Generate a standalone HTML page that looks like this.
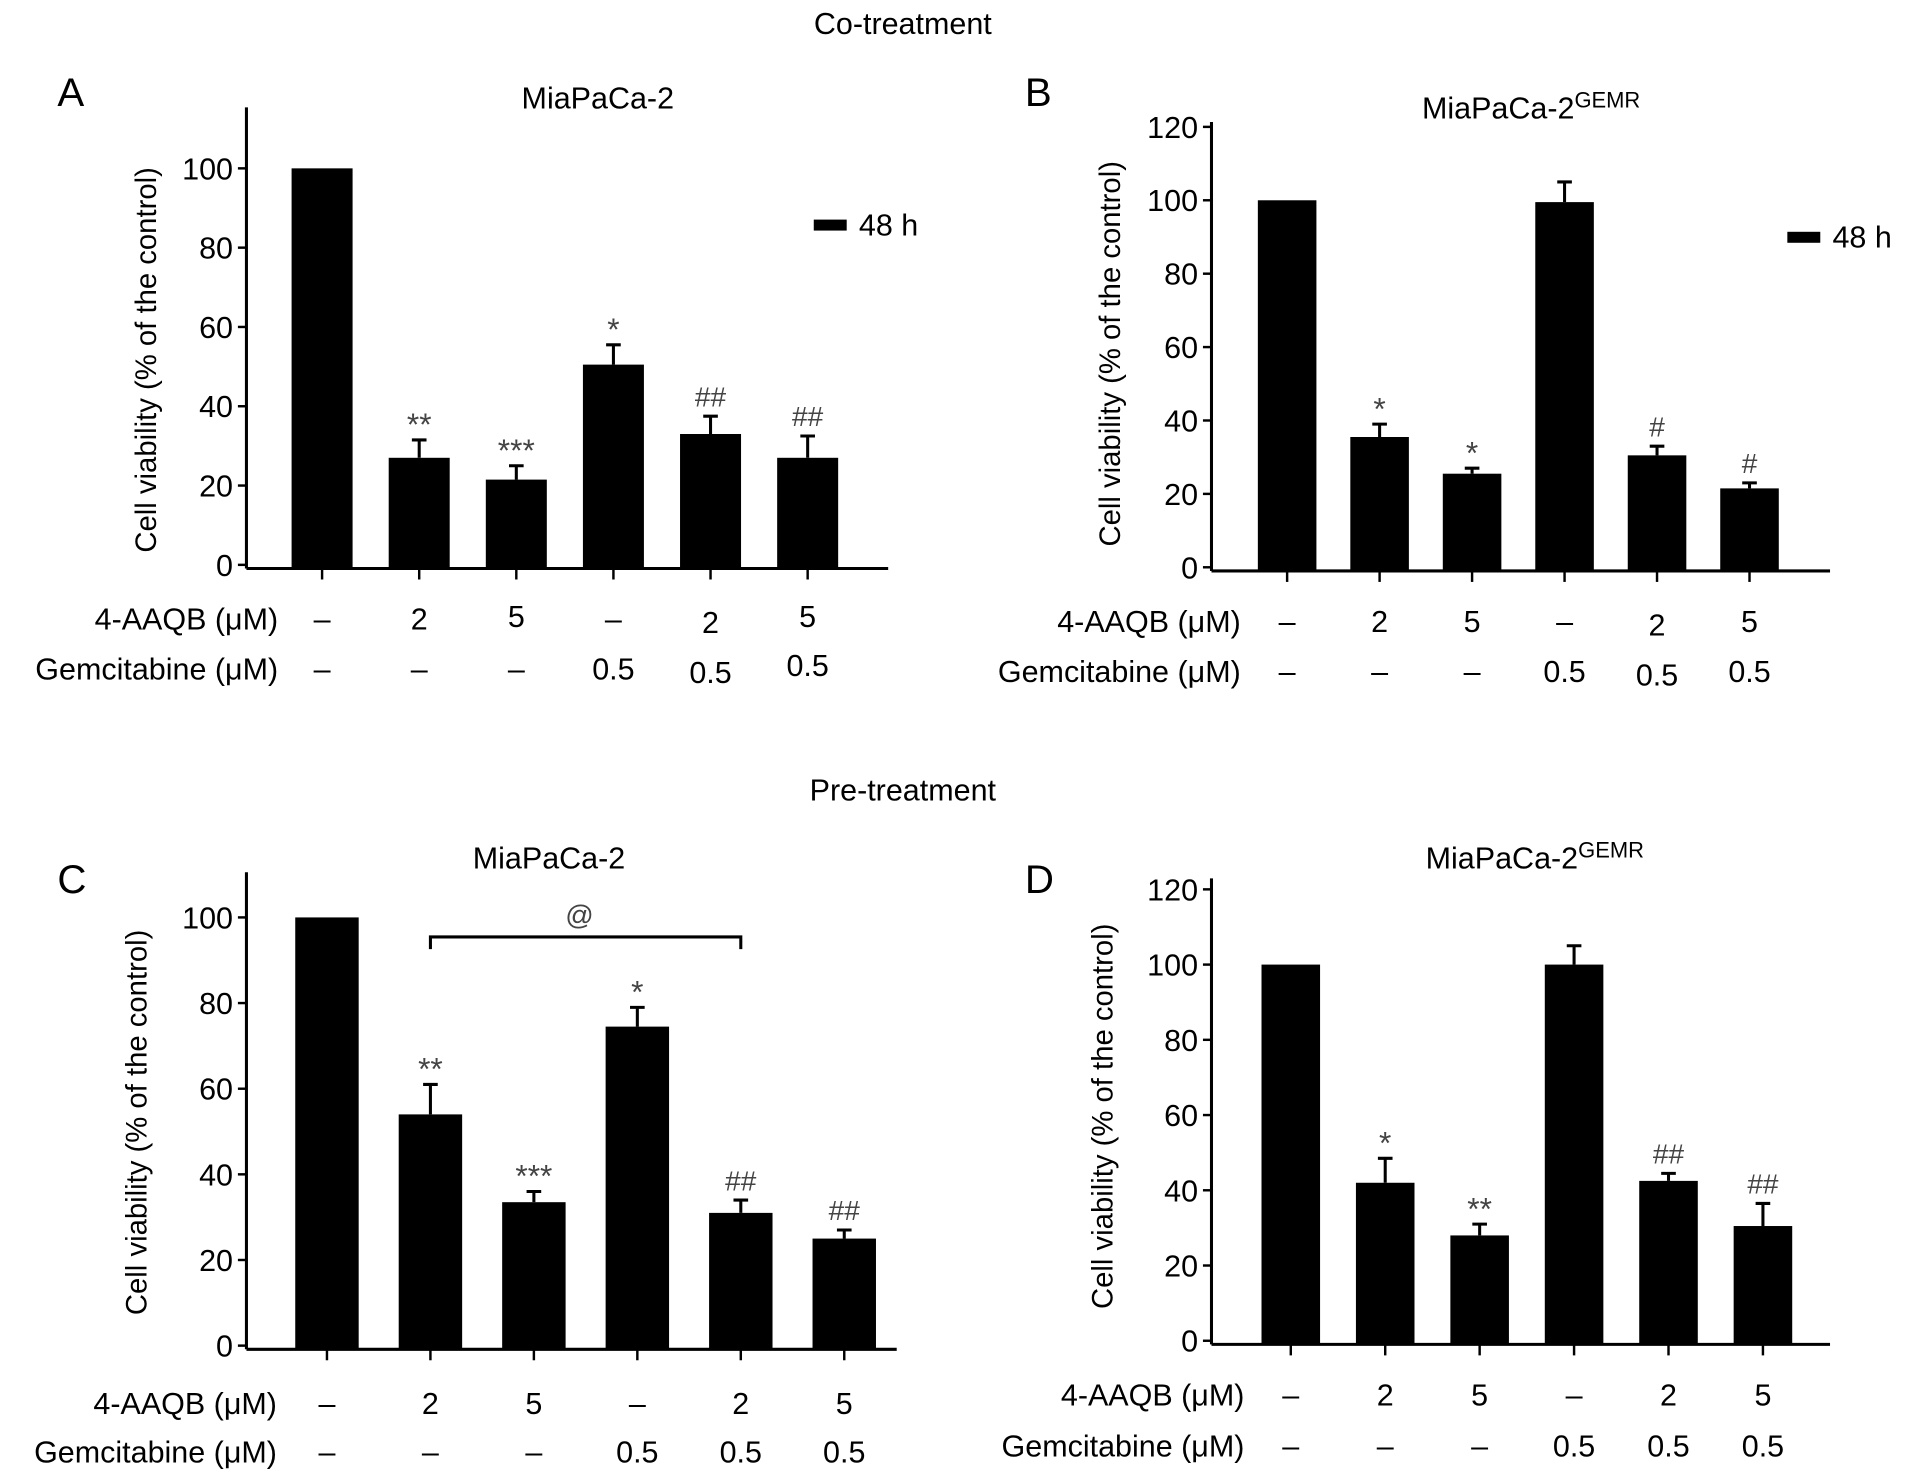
<!DOCTYPE html>
<html><head><meta charset="utf-8"><style>
html,body{margin:0;padding:0;background:#fff;}
svg{display:block;font-family:"Liberation Sans",Arial,sans-serif;}
</style></head><body>
<svg id="fig" width="1913" height="1483" viewBox="0 0 1568 1215.6" preserveAspectRatio="none" xmlns="http://www.w3.org/2000/svg">
<text x="740" y="28" font-size="25" text-anchor="middle">Co-treatment</text>
<text x="740" y="656" font-size="25" text-anchor="middle">Pre-treatment</text>
</svg>
<script>
const aaqbLabels = ["–","2","5","–","2","5"];
const gemLabels = ["–","–","–","0.5","0.5","0.5"];
const valuesA = [100, 27, 21.5, 50.5, 33, 27];
const errorsA = [0, 31.5, 25, 55.5, 37.5, 32.5];
const marksA = ["", "**", "***", "*", "##", "##"];
const valuesB = [100, 35.5, 25.5, 99.5, 30.5, 21.5];
const errorsB = [0, 39, 27, 105, 33, 23];
const marksB = ["", "*", "*", "", "#", "#"];
const valuesC = [100, 54, 33.5, 74.5, 31, 25];
const errorsC = [0, 61, 36, 79, 34, 27];
const marksC = ["", "**", "***", "*", "##", "##"];
const valuesD = [100, 42, 28, 100, 42.5, 30.5];
const errorsD = [0, 48.5, 31, 105, 44.5, 36.5];
const marksD = ["", "*", "**", "", "##", "##"];
const ticksA = [0,20,40,60,80,100];
const ticksB = [0,20,40,60,80,100,120];

const NS = "http://www.w3.org/2000/svg";
const svg = document.getElementById('fig');
function el(tag, attrs, parent, text){
  const e = document.createElementNS(NS, tag);
  for (const k in attrs) e.setAttribute(k, attrs[k]);
  if (text !== undefined) e.textContent = text;
  (parent||svg).appendChild(e);
  return e;
}

function panel(cfg){
  const g = el('g', {});
  
  
  const yS = v => cfg.y0 - (v - 0) * (cfg.y0 - cfg.yMaxPx) / cfg.yMax;
  const xS = i => cfg.x0c + i * cfg.step;
  const L = el('text', {x: cfg.letterX, y: cfg.letterY, 'font-size': 33}, g, cfg.id.toUpperCase());
  
  
  const T = el('text', {x: cfg.titleX, y: cfg.titleY, 'font-size': 25, 'text-anchor': 'middle'}, g);
  
  
  T.appendChild(document.createTextNode('MiaPaCa-2'));
  if (cfg.gemr){ el('tspan', {dy: -9, 'font-size': 18}, T, 'GEMR'); }
  const ya = el('line', {x1: cfg.axX, y1: cfg.axTop, x2: cfg.axX, y2: cfg.y0 + 3, stroke: '#000', 'stroke-width': 2.5}, g);
  
  
  const xa = el('line', {x1: cfg.axX, y1: cfg.y0 + 3, x2: cfg.axRight, y2: cfg.y0 + 3, stroke: '#000', 'stroke-width': 2.5}, g);
  
  
  cfg.ticks.forEach(t => {
    const y = yS(t);
    const tl = el('line', {x1: cfg.axX - 7, y1: y, x2: cfg.axX, y2: y, stroke: '#000', 'stroke-width': 2}, g);
    
    
    const tt = el('text', {x: cfg.axX - 11, y: y + 9, 'font-size': 25, 'text-anchor': 'end'}, g, String(t));
    
    
  });
  const yl = el('text', {x: 0, y: 0, 'font-size': 24, 'text-anchor': 'middle', transform: `translate(${cfg.ylX},${cfg.ylY}) rotate(-90)`}, g, 'Cell viability (% of the control)');
  
  
  cfg.values.forEach((v, i) => {
    const cx = xS(i);
    const r = el('rect', {x: cx - cfg.bw/2, y: yS(v), width: cfg.bw, height: cfg.y0 + 2 - yS(v), fill: '#000'}, g);
    
    
    const tk = el('line', {x1: cx, y1: cfg.y0 + 3, x2: cx, y2: cfg.y0 + 12, stroke: '#000', 'stroke-width': 2}, g);
    
    
    const e = cfg.errors[i];
    if (e > v){
      const eb = el('path', {d: `M${cx},${yS(v)} V${yS(e)} M${cx-6},${yS(e)} H${cx+6}`, stroke: '#000', 'stroke-width': 2.5, fill: 'none'}, g);
      
      
    }
    if (cfg.marks[i]){
      const isHash = cfg.marks[i].includes('#');
      const m = el('text', {x: cx, y: yS(Math.max(e, v)) - (isHash ? 8 : 4), 'font-size': isHash ? 23 : 26, 'text-anchor': 'middle', fill: '#444'}, g, cfg.marks[i]);
      
      
    }
    const a = el('text', {x: cx, y: cfg.row1Y + (cfg.aaqbDy ? cfg.aaqbDy[i] : 0), 'font-size': 25, 'text-anchor': 'middle'}, g, aaqbLabels[i]);
    
    
    const gm = el('text', {x: cx, y: cfg.row2Y + (cfg.gemDy ? cfg.gemDy[i] : 0), 'font-size': 25, 'text-anchor': 'middle'}, g, gemLabels[i]);
    
    
  });
  const r1 = el('text', {x: cfg.rowLabelX, y: cfg.row1Y, 'font-size': 25, 'text-anchor': 'end'}, g, '4-AAQB (μM)');
  
  
  const r2 = el('text', {x: cfg.rowLabelX, y: cfg.row2Y, 'font-size': 25, 'text-anchor': 'end'}, g, 'Gemcitabine (μM)');
  
  
  if (cfg.legendX){
    const lr = el('rect', {x: cfg.legendX, y: cfg.legendY - 4, width: 27, height: 9, fill: '#000'}, g);
    
    
    const lt = el('text', {x: cfg.legendX + 37, y: cfg.legendY + 9, 'font-size': 25}, g, '48 h');
    
    
  }
  if (cfg.bracket){
    const x1 = xS(cfg.bracket[0]), x2 = xS(cfg.bracket[1]);
    const bp = el('path', {d: `M${x1},${cfg.bracketY+10} V${cfg.bracketY} H${x2} V${cfg.bracketY+10}`, stroke: '#000', 'stroke-width': 2.5, fill: 'none'}, g);
    
    
    const bt = el('text', {x: (x1+x2)/2 - 5, y: cfg.bracketY - 10, 'font-size': 23, 'text-anchor': 'middle', fill: '#444'}, g, '@');
    
    
  }
}

panel({id:'a', values:valuesA, errors:errorsA, marks:marksA, ticks:ticksA, yMax:100, y0:463, yMaxPx:138,
  axX:202, axTop:88, axRight:728, x0c:264, step:79.6, bw:50, letterX:47, letterY:87, titleX:490, titleY:89,
  ylX:128, ylY:295, row1Y:516, row2Y:557, rowLabelX:228, legendX:667, legendY:184,
  aaqbDy:[0,0,-2,0,3,-2], gemDy:[0,0,0,0,3,-3]});
panel({id:'b', values:valuesB, errors:errorsB, marks:marksB, ticks:ticksB, yMax:120, y0:465, yMaxPx:104,
  axX:993, axTop:100, axRight:1500, x0c:1055, step:75.8, bw:48, letterX:840, letterY:87, titleX:1255, titleY:97, gemr:true,
  ylX:918, ylY:290, row1Y:518, row2Y:559, rowLabelX:1017, legendX:1465, legendY:194,
  aaqbDy:[0,0,0,0,3,0], gemDy:[0,0,0,0,3,0]});
panel({id:'c', values:valuesC, errors:errorsC, marks:marksC, ticks:ticksA, yMax:100, y0:1103, yMaxPx:752,
  axX:202, axTop:715, axRight:735, x0c:268, step:84.8, bw:52, letterX:47, letterY:732, titleX:450, titleY:712,
  ylX:120, ylY:920, row1Y:1159, row2Y:1199, rowLabelX:227, bracket:[1,4], bracketY:768});
panel({id:'d', values:valuesD, errors:errorsD, marks:marksD, ticks:ticksB, yMax:120, y0:1099, yMaxPx:729,
  axX:993, axTop:720, axRight:1500, x0c:1058, step:77.4, bw:48, letterX:840, letterY:732, titleX:1258, titleY:712, gemr:true,
  ylX:912, ylY:915, row1Y:1152, row2Y:1194, rowLabelX:1020});
</script>
</body></html>
